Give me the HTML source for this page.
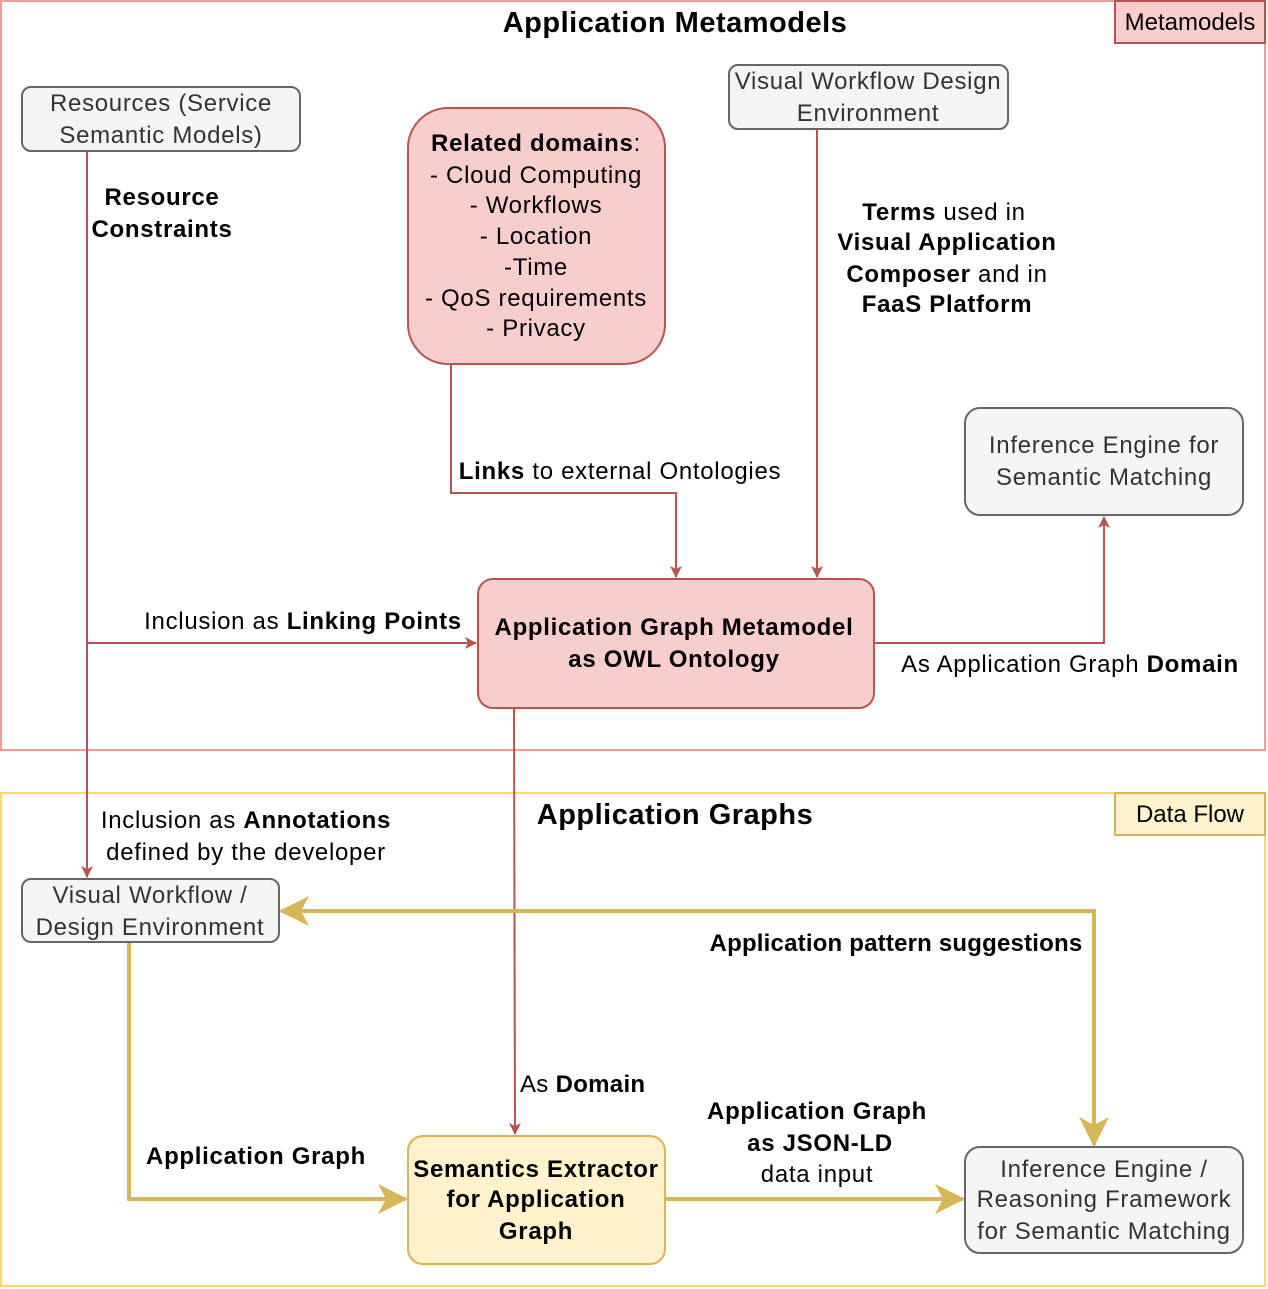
<!DOCTYPE html>
<html><head><meta charset="utf-8"><style>
html,body{margin:0;padding:0;background:#fff;}
svg{display:block;font-family:"Liberation Sans",Arial,sans-serif;}
</style></head><body>
<svg width="1268" height="1289" viewBox="0 0 1268 1289" xmlns="http://www.w3.org/2000/svg">
<defs>
<marker id="ar" markerWidth="12" markerHeight="12" refX="11" refY="6" orient="auto" markerUnits="userSpaceOnUse"><path d="M0,0 L12,6 L0,12 L3,6 Z" fill="#b85450"/></marker>
<marker id="ay" markerWidth="30" markerHeight="30" refX="28" refY="15" orient="auto" markerUnits="userSpaceOnUse"><path d="M0,0 L30,15 L0,30 L8,15 Z" fill="#d6b656"/></marker>
</defs>
<rect x="1" y="1" width="1264" height="749" fill="none" stroke="#f19c99" stroke-width="2"/>
<rect x="1115" y="1" width="150" height="42" fill="#f8cecc" stroke="#b85450" stroke-width="2"/>
<text x="1190" y="30" font-size="24" text-anchor="middle">Metamodels</text>
<text x="675" y="32" font-size="29" font-weight="bold" letter-spacing="0.5" text-anchor="middle">Application Metamodels</text>

<rect x="1" y="793" width="1264" height="493" fill="none" stroke="#ffd966" stroke-width="2"/>
<rect x="1115" y="793" width="150" height="42" fill="#fff2cc" stroke="#d6b656" stroke-width="2"/>
<text x="1190" y="822" font-size="24" text-anchor="middle">Data Flow</text>
<text x="675" y="824" font-size="29" font-weight="bold" letter-spacing="0.5" text-anchor="middle">Application Graphs</text>

<g stroke="#b85450" stroke-width="2" fill="none">
<path d="M87,151 V877" marker-end="url(#ar)"/>
<path d="M87,643 H476" marker-end="url(#ar)"/>
<path d="M451,364 V493 H676 V577" marker-end="url(#ar)"/>
<path d="M817,129 V577" marker-end="url(#ar)"/>
<path d="M874,643 H1104 V517" marker-end="url(#ar)"/>
<path d="M514,708 L515,1134" marker-end="url(#ar)"/>
</g>
<g stroke="#d6b656" stroke-width="4" fill="none">
<path d="M129,942 V1199 H406" marker-end="url(#ay)"/>
<path d="M665,1199 H963" marker-end="url(#ay)"/>
<path d="M1094,1145 V911 H281" marker-end="url(#ay)"/>
<path d="M1094,930 V1145" marker-end="url(#ay)"/>
</g>

<g font-size="24" letter-spacing="0.7" text-anchor="middle">
<rect x="22" y="87" width="278" height="64" rx="9" fill="#f5f5f5" stroke="#666" stroke-width="2"/>
<text x="161" y="111" fill="#333">Resources (Service</text>
<text x="161" y="143" fill="#333">Semantic Models)</text>

<rect x="408" y="108" width="257" height="256" rx="40" fill="#f8cecc" stroke="#b85450" stroke-width="2"/>
<text x="536" y="151"><tspan font-weight="bold">Related domains</tspan>:</text>
<text x="536" y="183">- Cloud Computing</text>
<text x="536" y="213">- Workflows</text>
<text x="536" y="244">- Location</text>
<text x="536" y="275">-Time</text>
<text x="536" y="306">- QoS requirements</text>
<text x="536" y="336">- Privacy</text>

<rect x="729" y="65" width="279" height="64" rx="9" fill="#f5f5f5" stroke="#666" stroke-width="2"/>
<text x="868" y="89" fill="#333">Visual Workflow Design</text>
<text x="868" y="121" fill="#333">Environment</text>

<rect x="965" y="408" width="278" height="107" rx="15" fill="#f5f5f5" stroke="#666" stroke-width="2"/>
<text x="1104" y="453" fill="#333">Inference Engine for</text>
<text x="1104" y="485" fill="#333">Semantic Matching</text>

<rect x="478" y="579" width="396" height="129" rx="15" fill="#f8cecc" stroke="#b85450" stroke-width="2"/>
<text x="674" y="635" font-weight="bold">Application Graph Metamodel</text>
<text x="674" y="667" font-weight="bold">as OWL Ontology</text>

<rect x="22" y="879" width="257" height="63" rx="9" fill="#f5f5f5" stroke="#666" stroke-width="2"/>
<text x="150" y="903" fill="#333">Visual Workflow /</text>
<text x="150" y="935" fill="#333">Design Environment</text>

<rect x="408" y="1136" width="257" height="128" rx="15" fill="#fff2cc" stroke="#d6b656" stroke-width="2"/>
<text x="536" y="1177" font-weight="bold">Semantics Extractor</text>
<text x="536" y="1207" font-weight="bold">for Application</text>
<text x="536" y="1239" font-weight="bold">Graph</text>

<rect x="965" y="1147" width="278" height="106" rx="15" fill="#f5f5f5" stroke="#666" stroke-width="2"/>
<text x="1104" y="1177" fill="#333">Inference Engine /</text>
<text x="1104" y="1207" fill="#333">Reasoning Framework</text>
<text x="1104" y="1239" fill="#333">for Semantic Matching</text>
</g>

<g font-size="24" letter-spacing="0.7" text-anchor="middle">
<text x="162" y="205" font-weight="bold">Resource</text>
<text x="162" y="237" font-weight="bold">Constraints</text>
<text x="944" y="220"><tspan font-weight="bold">Terms</tspan> used in</text>
<text x="947" y="250" font-weight="bold">Visual Application</text>
<text x="947" y="282"><tspan font-weight="bold">Composer</tspan> and in</text>
<text x="947" y="312" font-weight="bold">FaaS Platform</text>
<text x="620" y="479"><tspan font-weight="bold">Links</tspan> to external Ontologies</text>
<text x="303" y="629">Inclusion as <tspan font-weight="bold">Linking Points</tspan></text>
<text x="1070" y="672">As Application Graph <tspan font-weight="bold">Domain</tspan></text>
<text x="246" y="828">Inclusion as <tspan font-weight="bold">Annotations</tspan></text>
<text x="246" y="860">defined by the developer</text>
<text x="896" y="951" font-weight="bold" letter-spacing="0.2">Application pattern suggestions</text>
<text x="520" y="1092" text-anchor="start" letter-spacing="0.3">As <tspan font-weight="bold">Domain</tspan></text>
<text x="256" y="1164" font-weight="bold">Application Graph</text>
<text x="817" y="1119" font-weight="bold">Application Graph</text>
<text x="820" y="1151" font-weight="bold">as JSON-LD</text>
<text x="817" y="1182">data input</text>
</g>
</svg>
</body></html>
